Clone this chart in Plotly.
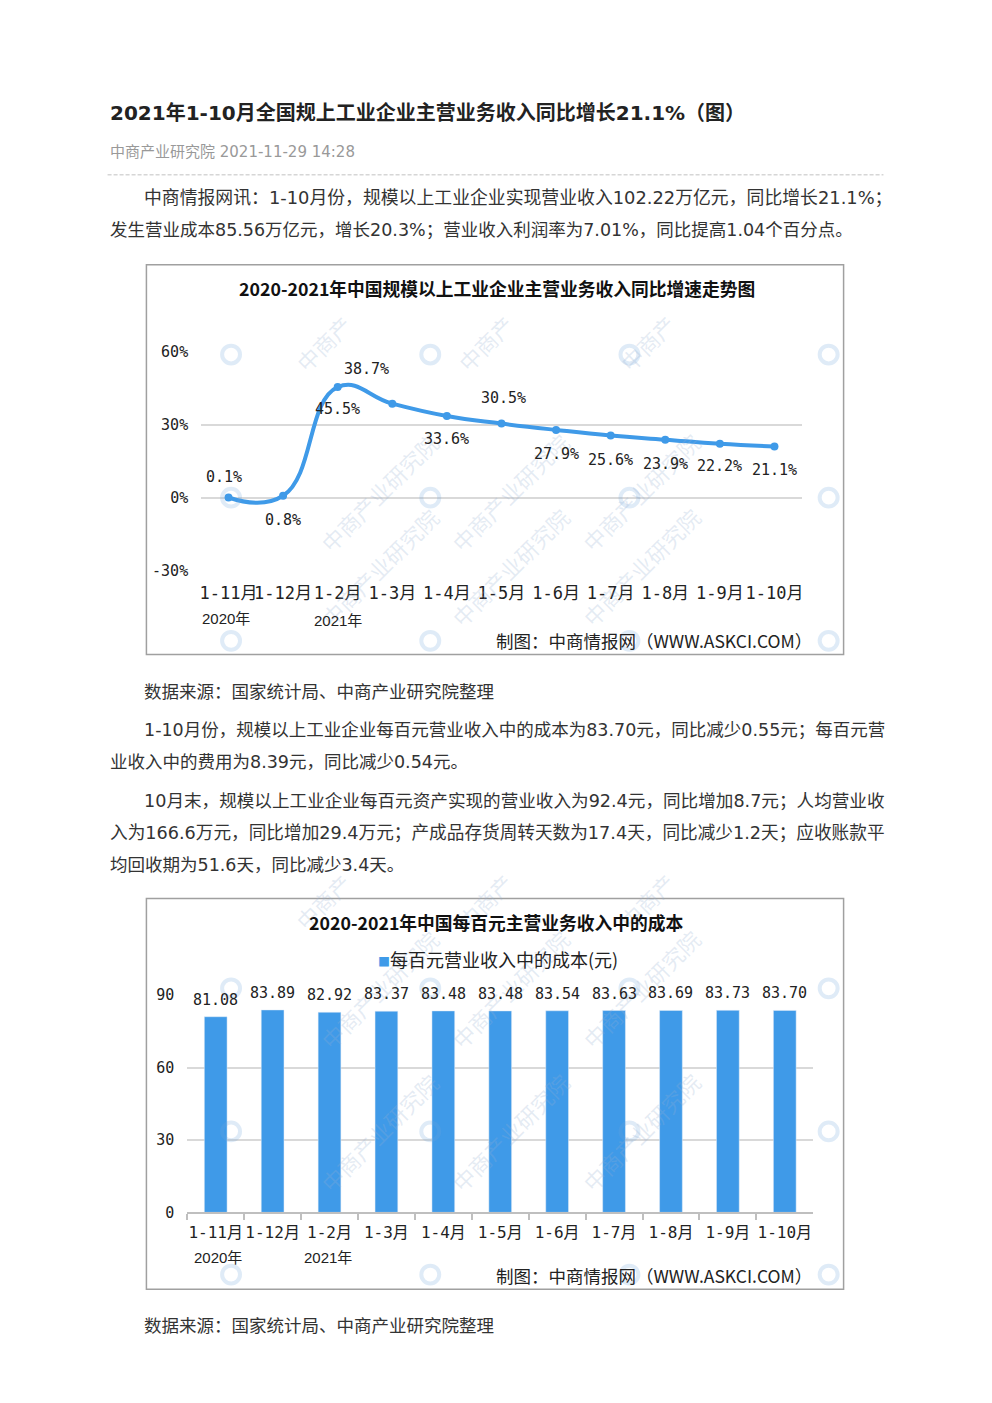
import plotly.graph_objects as go

W, H = 992, 1403

# ---------------- data ----------------
months = ["1-11月", "1-12月", "1-2月", "1-3月", "1-4月", "1-5月",
          "1-6月", "1-7月", "1-8月", "1-9月", "1-10月"]
growth_rate = [0.1, 0.8, 45.5, 38.7, 33.6, 30.5, 27.9, 25.6, 23.9, 22.2, 21.1]
growth_tickvals = [-30, 0, 30, 60]
growth_ticktext = ["-30%", "0%", "30%", "60%"]

cost_per_100 = [81.08, 83.89, 82.92, 83.37, 83.48, 83.48, 83.54, 83.63, 83.69, 83.73, 83.70]
cost_tickvals = [0, 30, 60, 90]
cost_ticktext = ["0", "30", "60", "90"]
cost_series_name = "每百元营业收入中的成本(元)"

year_labels = ["2020年", "2021年"]

# ---------------- styles ----------------
# offsets (px) of each growth label from its point: (dx, dy downward)
growth_label_offsets = [(-4, -21), (0, 24), (0, 22), (-26, -35), (0, 23), (2, -26),
                        (0, 24), (0, 25), (0, 24), (0, 22), (0, 24)]

BLUE = "#3f9ae8"
CJK = "Noto Sans CJK SC"
BODY = "DejaVu Sans, Noto Sans CJK SC"
MONO = "DejaVu Sans Mono, Noto Sans CJK SC"
TEXT = "#333333"


def px(x):
    return x / W


def py(y):
    return 1 - y / H


fig = go.Figure()

# chart 1: line
fig.add_trace(go.Scatter(
    x=months, y=growth_rate, mode="lines+markers",
    line=dict(shape="spline", smoothing=1.3, color=BLUE, width=4),
    marker=dict(size=8, color=BLUE),
    xaxis="x", yaxis="y", showlegend=False, cliponaxis=False,
    hoverinfo="skip"))

# chart 2: bars
fig.add_trace(go.Bar(
    x=months, y=cost_per_100, name=cost_series_name,
    marker=dict(color=BLUE), width=0.4,
    xaxis="x2", yaxis="y2", showlegend=False, hoverinfo="skip"))

annotations = []
shapes = []


def text(x, y, s, size=17.5, color=TEXT, anchor="left", family=BODY, **kw):
    annotations.append(dict(
        x=px(x), y=py(y), xref="paper", yref="paper", text=s, showarrow=False,
        xanchor=anchor, yanchor="middle",
        font=dict(family=family, size=size, color=color), **kw))


# chart frames
boxes = [(145, 259, 845, 654), (145, 901, 845, 1297)]
for (x0, y0, x1, y1) in boxes:
    shapes.append(dict(type="rect", xref="paper", yref="paper",
                       x0=px(x0), x1=px(x1), y0=py(y1), y1=py(y0),
                       line=dict(color="#a0a0a0", width=1.5), layer="below"))

# faint watermarks
for (bx0, by0, bx1, by1) in boxes:
    for row in range(3):
        for col in range(4):
            lx = bx0 + 85 + 200 * col
            ly = by0 + 91 + 145 * row
            shapes.append(dict(type="circle", xref="paper", yref="paper",
                               x0=px(lx - 9), x1=px(lx + 9), y0=py(ly + 9), y1=py(ly - 9),
                               line=dict(color="rgba(110,165,220,0.22)", width=4)))
            if col == 3:
                continue
            if row == 0:
                annotations.append(dict(x=px(lx + 55), y=py(ly - 50), xref="paper", yref="paper",
                                        text="中商产", showarrow=False, textangle=-45,
                                        font=dict(family=CJK, size=22, color="rgba(150,175,210,0.25)")))
            else:
                annotations.append(dict(x=px(lx + 80), y=py(ly - 75), xref="paper", yref="paper",
                                        text="中商产业研究院", showarrow=False, textangle=-45,
                                        font=dict(family=CJK, size=22, color="rgba(150,175,210,0.25)")))

# data labels chart 1
for i, (m, v) in enumerate(zip(months, growth_rate)):
    dx, dy = growth_label_offsets[i]
    annotations.append(dict(
        x=m, y=v, xref="x", yref="y", text=f"{v:.1f}%", showarrow=False,
        xshift=dx, yshift=-dy, xanchor="center", yanchor="middle",
        font=dict(family=MONO, size=15, color="#222")))

# data labels chart 2
for m, v in zip(months, cost_per_100):
    annotations.append(dict(
        x=m, y=v, xref="x2", yref="y2", text=f"{v:.2f}", showarrow=False,
        yshift=6, xanchor="center", yanchor="bottom",
        font=dict(family=MONO, size=15, color="#222")))

# page text
text(106, 105, "<b>2021年1-10月全国规上工业企业主营业务收入同比增长21.1%（图）</b>", size=20, color="#222")
text(106, 145, "中商产业研究院 2021-11-29 14:28", size=15, color="#999999")
shapes.append(dict(type="line", xref="paper", yref="paper", x0=px(106), x1=px(885),
                   y0=py(168), y1=py(168), line=dict(color="#d6d6d6", width=1.5, dash="4px,2px")))

text(141, 191, "中商情报网讯：1-10月份，规模以上工业企业实现营业收入102.22万亿元，同比增长21.1%；", size=17.85)
text(106, 224, "发生营业成本85.56万亿元，增长20.3%；营业收入利润率为7.01%，同比提高1.04个百分点。")

text(141, 692, "数据来源：国家统计局、中商产业研究院整理")
text(141, 730, "1-10月份，规模以上工业企业每百元营业收入中的成本为83.70元，同比减少0.55元；每百元营")
text(106, 763, "业收入中的费用为8.39元，同比减少0.54元。")
text(141, 802, "10月末，规模以上工业企业每百元资产实现的营业收入为92.4元，同比增加8.7元；人均营业收", size=17.6)
text(106, 835, "入为166.6万元，同比增加29.4万元；产成品存货周转天数为17.4天，同比减少1.2天；应收账款平", size=17.65)
text(106, 867, "均回收期为51.6天，同比减少3.4天。")
text(141, 1334, "数据来源：国家统计局、中商产业研究院整理")

# chart titles
text(497, 283, "<b>2020-2021年中国规模以上工业企业主营业务收入同比增速走势图</b>", size=17.75,
     color="#111", anchor="center", family=CJK)
text(497, 925, "<b>2020-2021年中国每百元主营业务收入中的成本</b>", size=17.75,
     color="#111", anchor="center", family=CJK)

# legend of the bar chart
text(376, 962, f'<span style="color:{BLUE};font-size:12px">■</span>{cost_series_name}',
     size=18, color="#222", family=CJK)

# year labels under the category axes
YF = "Liberation Sans, Noto Sans CJK SC"
text(225, 617, year_labels[0], size=15, color="#222", anchor="center", family=YF)
text(337, 619, year_labels[1], size=15, color="#222", anchor="center", family=YF)
text(217, 1265, year_labels[0], size=15, color="#222", anchor="center", family=YF)
text(327, 1265, year_labels[1], size=15, color="#222", anchor="center", family=YF)

# credits
text(815, 640, "制图：中商情报网（WWW.ASKCI.COM）", size=17.5, color="#222", anchor="right", family=CJK)
text(815, 1283, "制图：中商情报网（WWW.ASKCI.COM）", size=17.5, color="#222", anchor="right", family=CJK)

fig.update_layout(
    width=W, height=H, autosize=False,
    margin=dict(l=0, r=0, t=0, b=0),
    paper_bgcolor="white", plot_bgcolor="rgba(0,0,0,0)",
    annotations=annotations, shapes=shapes,
    showlegend=False,
    xaxis=dict(domain=[px(200), px(803)], anchor="y", type="category", range=[-0.5, 10.5],
               showgrid=False, showline=False, zeroline=False, ticks="",
               tickangle=0, ticklabelstandoff=10,
               tickfont=dict(family=MONO, size=17, color="#222")),
    yaxis=dict(domain=[py(569), py(347.3)], anchor="x", range=[-30, 60],
               tickvals=growth_tickvals, ticktext=growth_ticktext,
               showgrid=True, gridcolor="#d9d9d9", gridwidth=1.5,
               showline=False, zeroline=False, ticks="", ticklabelstandoff=12,
               tickfont=dict(family=MONO, size=15, color="#222")),
    xaxis2=dict(domain=[px(186), px(814.5)], anchor="y2", type="category", range=[-0.5, 10.5],
                showgrid=False, showline=True, linecolor="#bfbfbf", linewidth=1.5,
                ticks="outside", tickson="boundaries", ticklen=6, tickcolor="#bfbfbf",
                tickwidth=1.5, tickangle=0, ticklabelstandoff=5,
                tickfont=dict(family=MONO, size=16, color="#222")),
    yaxis2=dict(domain=[py(1219), py(999)], anchor="x2", range=[0, 90],
                tickvals=cost_tickvals, ticktext=cost_ticktext,
                showgrid=True, gridcolor="#d9d9d9", gridwidth=1.5,
                showline=False, zeroline=False, ticks="", ticklabelstandoff=12,
                tickfont=dict(family=MONO, size=15, color="#222")),
)

fig.write_html("out.html", post_script="document.body.style.margin='0px';")
